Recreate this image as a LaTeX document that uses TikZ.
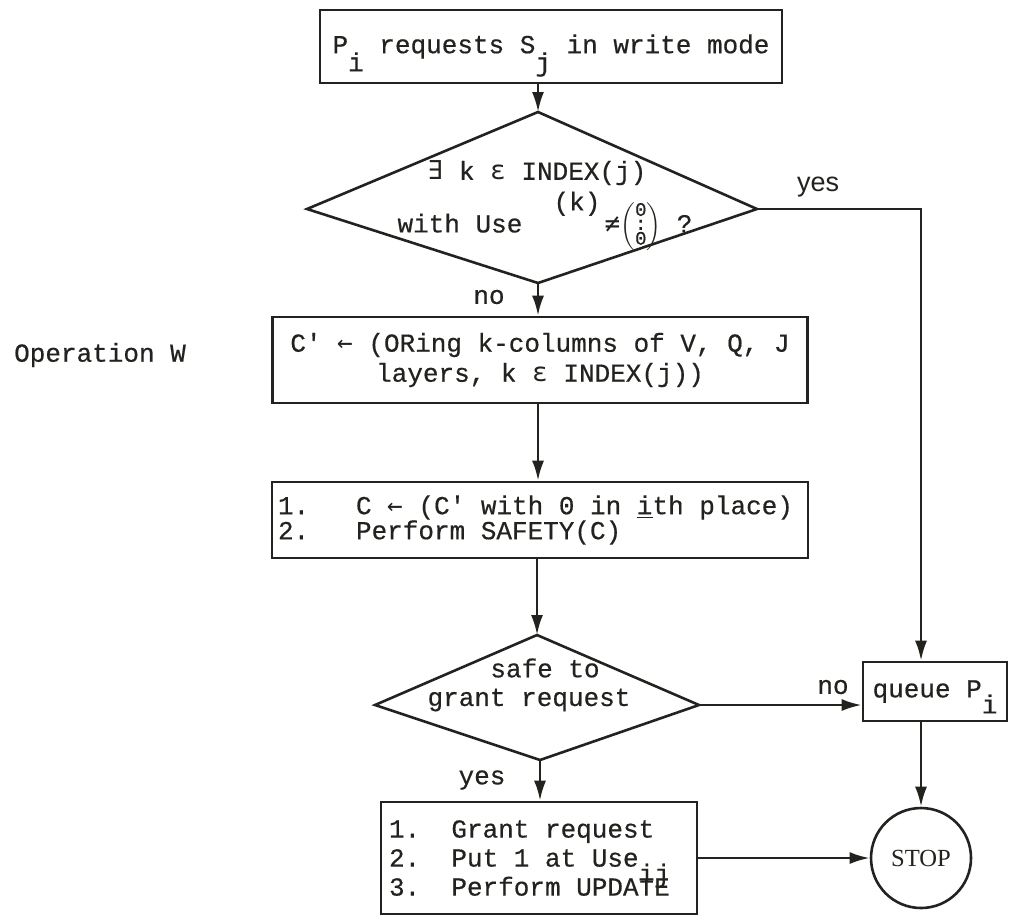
\documentclass[tikz,border=0pt]{standalone}
\usepackage{fontspec}
\setmainfont{Liberation Mono}[Ligatures=TeXOff,WordSpace={1,0,0},FakeBold=0.5]
\newfontfamily\symfont{DejaVu Sans Mono}[WordSpace={1,0,0}]
\newfontfamily\stopfont{Liberation Serif}
\newfontfamily\labelsans{Liberation Sans}
\usetikzlibrary{arrows.meta,calc}
\definecolor{ink}{RGB}{34,34,30}
% typewriter-style lowered index letter that keeps the line height unchanged
\newcommand\lowr[2][9pt]{\smash{\raisebox{-#1}{#2}}}
% symbols taken from a font that has them
\newcommand\exst{{\symfont\fontsize{13}{15}\selectfont ∃}}
\newcommand\elem{{\symfont ε}}
\newcommand\getsarrow{{\symfont ←}}
\newcommand\noteq{{\symfont ≠}}
% small column of zeros in round brackets
\newcommand\zerocol{$\left(\vcenter{\hbox{\fontsize{9.5}{8.5}\selectfont
  \begin{tabular}{@{}c@{}}0\\[-1.5pt]:\\[-1.5pt]0\end{tabular}}}\right)$}

\begin{document}
\begin{tikzpicture}[x=0.5pt,y=-0.5pt,
  every node/.style={text=ink},
  tw/.style={font=\fontsize{13}{15}\selectfont},
  line/.style={draw=ink,line width=1.3pt},
  arr/.style={line,-{Latex[length=10pt,width=6pt]}},
  stepbox/.style={line,rectangle,inner sep=0pt,tw},
  lbl/.style={tw,inner sep=1pt}]

\useasboundingbox (0,0) rectangle (1010,917);

% ---- request box
\node[stepbox,minimum width=231pt,minimum height=36.5pt] (req) at (551,46.5)
  {P\lowr{i} requests S\lowr{j} in write mode};

% ---- first test
\coordinate (d1t) at (538,112);
\coordinate (d1l) at (307,209);
\coordinate (d1r) at (757,209);
\coordinate (d1b) at (538,283);
\draw[line] (d1t) -- (d1r) -- (d1b) -- (d1l) -- cycle;
\node[tw] (q1a) at (537,173) {\exst{} k \elem{} INDEX(j)};
\node[tw] (q1b) at (545,221)
  {with Use\ \ \raisebox{11pt}{(k)}\,\noteq\zerocol\ ?};

% ---- operation W boxes
\node[tw] (opw) at (100,355) {Operation W};
\node[stepbox,minimum width=267.5pt,minimum height=43pt,align=center,
      font=\fontsize{13}{15}\selectfont] (orc) at (540,360)
  {C' \getsarrow{} (ORing k-columns of V, Q, J\\layers, k \elem{} INDEX(j))};
\node[stepbox,minimum width=268pt,minimum height=38pt,align=flush left,
      text width=262pt,font=\fontsize{13}{12.5}\selectfont] (saf) at (540,520)
  {1.\ \ \ C \getsarrow{} (C' with 0 in \underline{i}th place)\\2.\ \ \ Perform SAFETY(C)};

% ---- second test
\coordinate (d2t) at (537,635);
\coordinate (d2l) at (375,705);
\coordinate (d2r) at (699,705);
\coordinate (d2b) at (540,760);
\draw[line] (d2t) -- (d2r) -- (d2b) -- (d2l) -- cycle;
\node[tw] (q2a) at (545,668) {safe to};
\node[tw] (q2b) at (529,700) {grant request};

% ---- grant box
\node[stepbox,minimum width=158pt,minimum height=56pt,align=flush left,
      text width=150pt,font=\fontsize{13}{14.5}\selectfont] (grant) at (539,858)
  {1.\ \ Grant request\\2.\ \ Put 1 at Use\lowr[8pt]{ij}\\3.\ \ Perform UPDATE};

% ---- queue and stop
\node[stepbox,minimum width=72pt,minimum height=29.5pt] (queue) at (935,691.5)
  {queue P\lowr[8pt]{i}};
\node[line,circle,minimum size=50pt,inner sep=0pt,
      font=\stopfont\fontsize{12.3}{14}\selectfont] (stop) at (921,858) {STOP};
\coordinate (qx) at (921,0);

% ---- branch labels
\node[lbl,font=\labelsans\fontsize{13.5}{15}\selectfont] (yes1) at (818,187) {yes};
\node[lbl] (no1) at (489,297) {no};
\node[lbl] (no2) at (833,687) {no};
\node[lbl] (yes2) at (482,780) {yes};

% ---- connectors
\draw[arr] (req.south -| d1t) -- (d1t);
\draw[arr] (d1r) -| (queue.north -| qx);
\draw[arr] (d1b) -- (orc.north -| d1b);
\draw[arr] (orc.south -| d1b) -- (saf.north -| d1b);
\draw[arr] (saf.south -| d2t) -- (d2t);
\draw[arr] (d2r) -- (queue.west |- d2r);
\draw[arr] (d2b) -- (grant.north -| d2b);
\draw[arr] (queue.south -| stop.north) -- (stop.north);
\draw[arr] (grant.east |- stop.west) -- (stop.west);
\end{tikzpicture}
\end{document}
